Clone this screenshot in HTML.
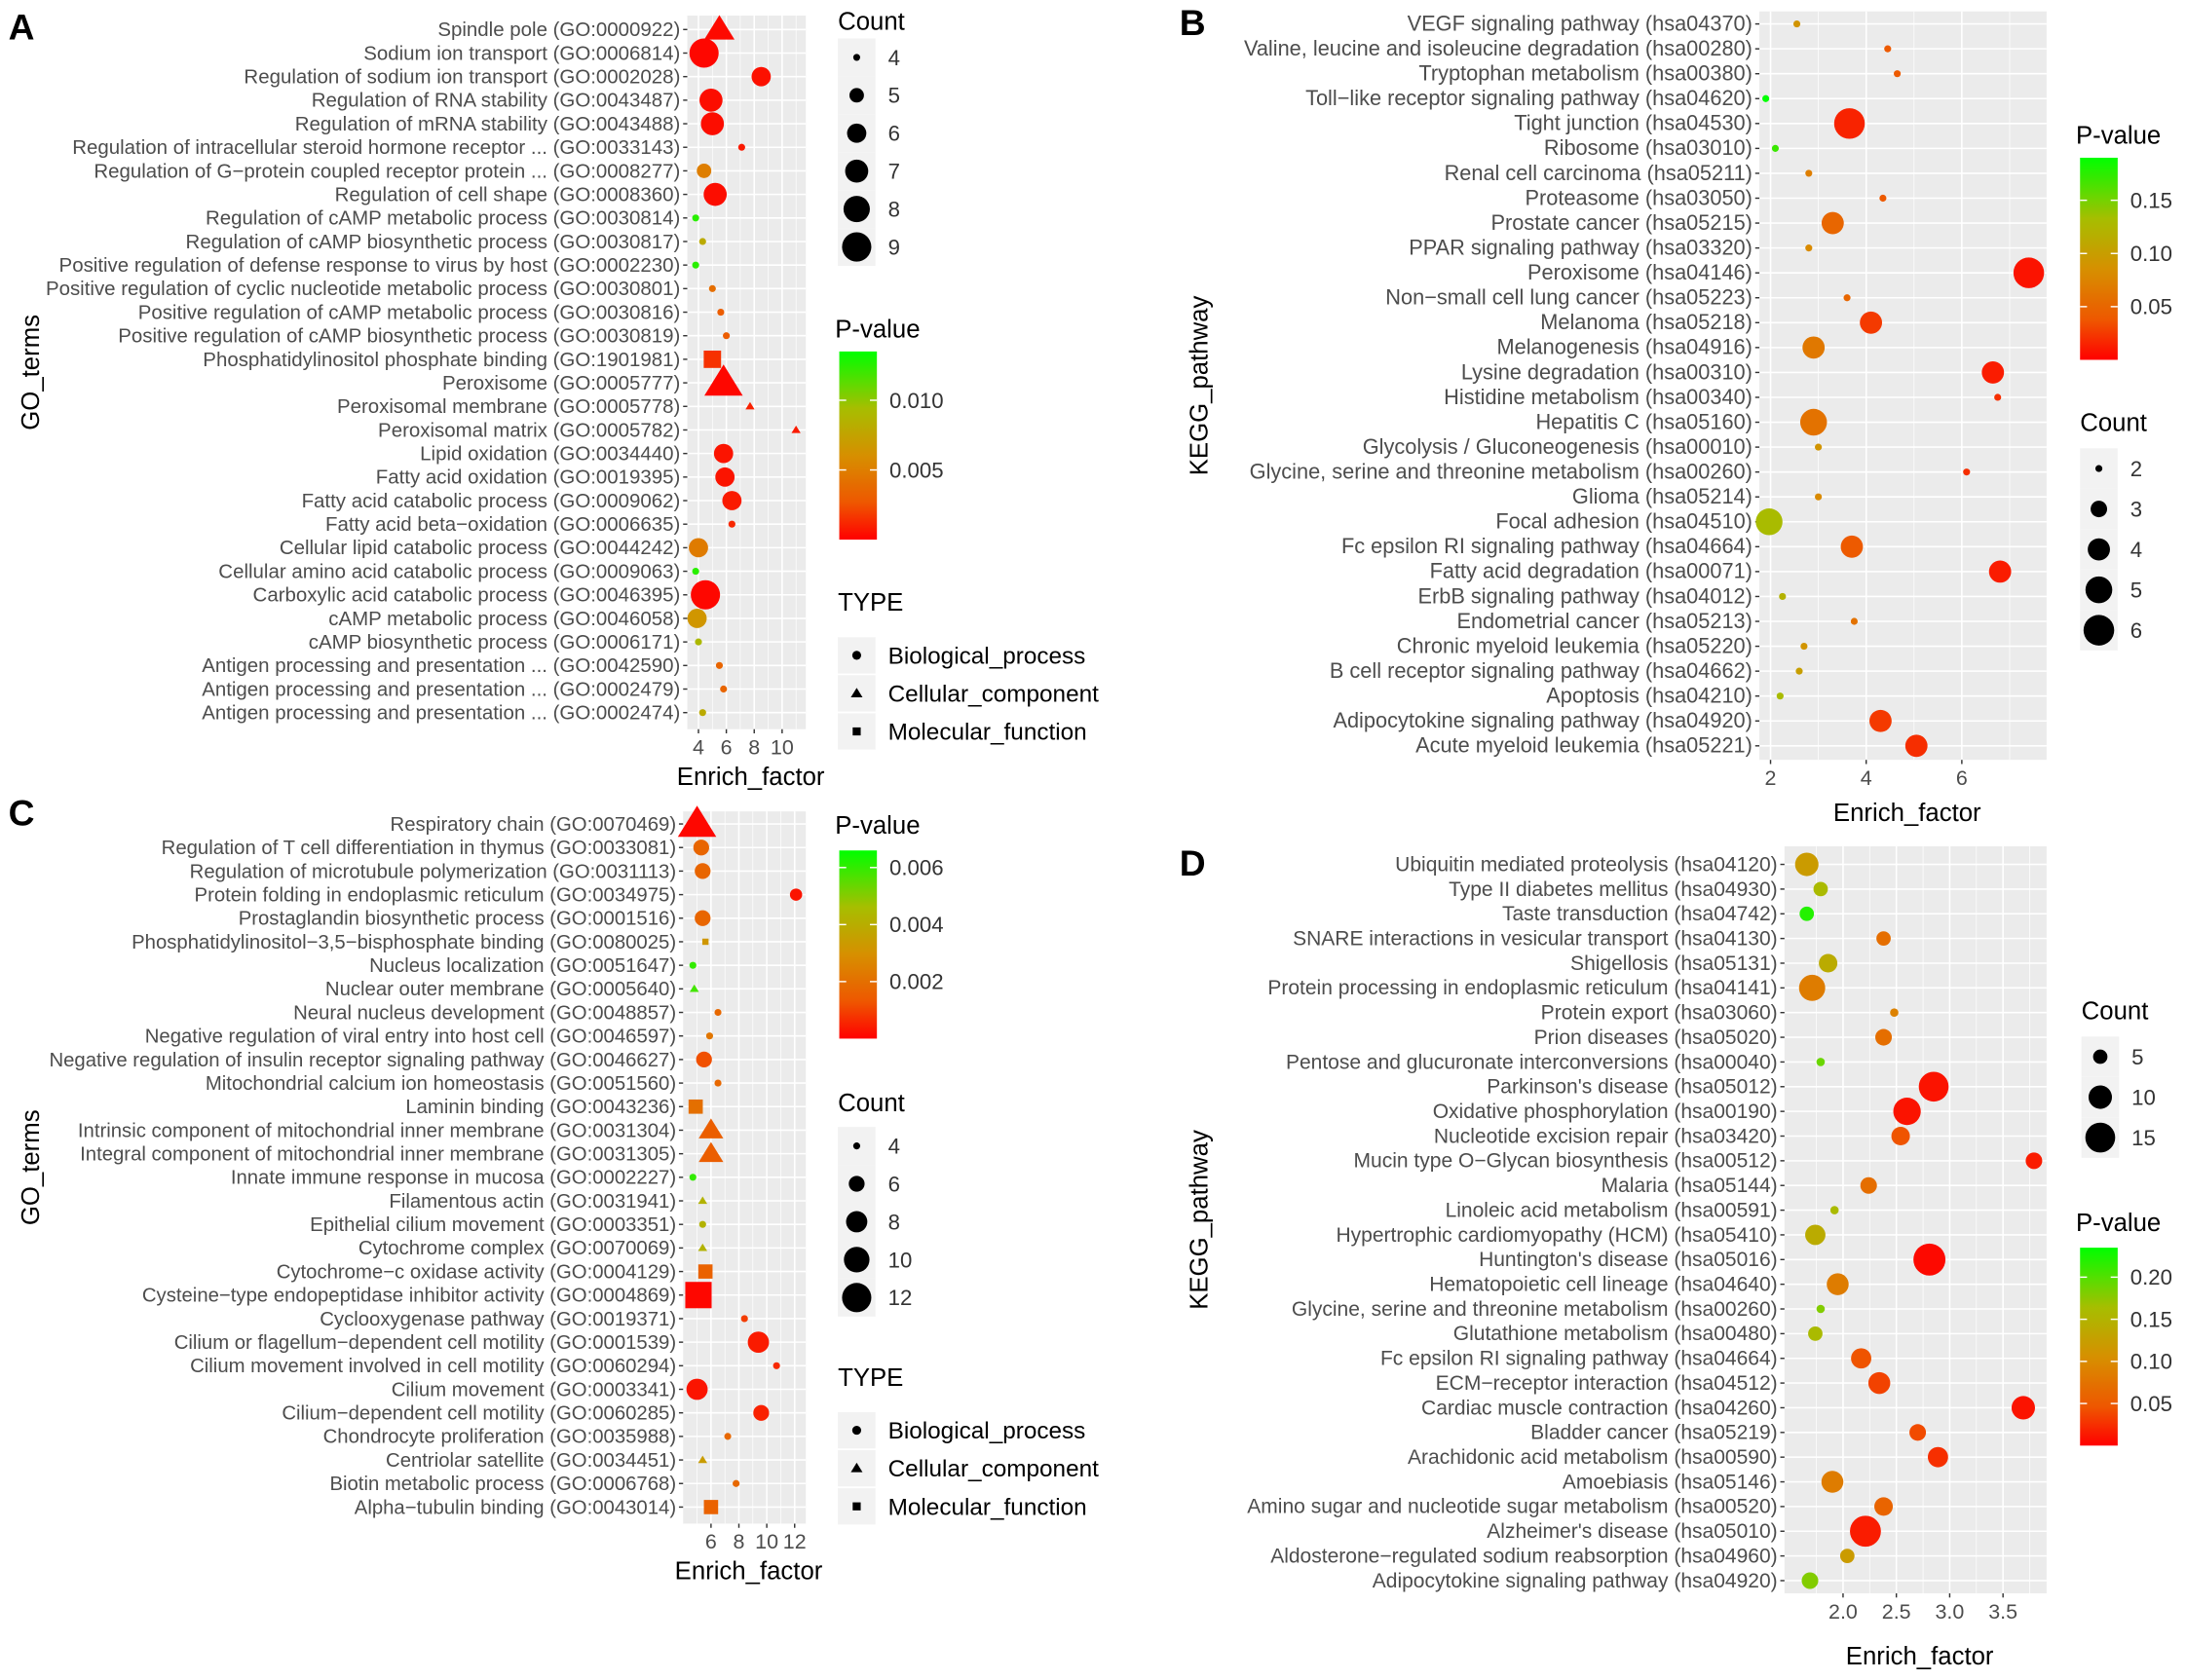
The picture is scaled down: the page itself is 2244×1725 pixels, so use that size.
<!DOCTYPE html>
<html><head><meta charset="utf-8"><style>
html,body{margin:0;padding:0;background:#fff;}
svg{display:block;font-family:"Liberation Sans",Arial,sans-serif;}
</style></head><body>
<svg id="fig" width="2244" height="1725" viewBox="0 0 1568 1205" xmlns="http://www.w3.org/2000/svg"></svg>
<script>
// ---- Panel A data ----
const aTerms=["Spindle pole (GO:0000922)","Sodium ion transport (GO:0006814)","Regulation of sodium ion transport (GO:0002028)","Regulation of RNA stability (GO:0043487)","Regulation of mRNA stability (GO:0043488)","Regulation of intracellular steroid hormone receptor ... (GO:0033143)","Regulation of G−protein coupled receptor protein ... (GO:0008277)","Regulation of cell shape (GO:0008360)","Regulation of cAMP metabolic process (GO:0030814)","Regulation of cAMP biosynthetic process (GO:0030817)","Positive regulation of defense response to virus by host (GO:0002230)","Positive regulation of cyclic nucleotide metabolic process (GO:0030801)","Positive regulation of cAMP metabolic process (GO:0030816)","Positive regulation of cAMP biosynthetic process (GO:0030819)","Phosphatidylinositol phosphate binding (GO:1901981)","Peroxisome (GO:0005777)","Peroxisomal membrane (GO:0005778)","Peroxisomal matrix (GO:0005782)","Lipid oxidation (GO:0034440)","Fatty acid oxidation (GO:0019395)","Fatty acid catabolic process (GO:0009062)","Fatty acid beta−oxidation (GO:0006635)","Cellular lipid catabolic process (GO:0044242)","Cellular amino acid catabolic process (GO:0009063)","Carboxylic acid catabolic process (GO:0046395)","cAMP metabolic process (GO:0046058)","cAMP biosynthetic process (GO:0006171)","Antigen processing and presentation ... (GO:0042590)","Antigen processing and presentation ... (GO:0002479)","Antigen processing and presentation ... (GO:0002474)"];
const aEnrich=[5.5,4.4,8.5,4.9,5.0,7.1,4.4,5.2,3.8,4.3,3.8,5.0,5.6,6.0,5.0,5.8,7.7,11.0,5.8,5.9,6.4,6.4,4.0,3.8,4.5,3.9,4.0,5.5,5.8,4.3];
const aCount=[7,9,6,7,7,4,5,7,4,4,4,4,4,4,6,9,4,4,6,6,6,4,6,4,9,6,4,4,4,4];
const aPval=[0.0003,0.0002,0.0005,0.0004,0.0004,0.0008,0.005,0.0004,0.0125,0.008,0.0125,0.004,0.003,0.003,0.0015,0.0002,0.001,0.0008,0.0006,0.0006,0.0008,0.0012,0.0048,0.0125,0.0002,0.0065,0.009,0.0035,0.0035,0.008];
const aType=["c","b","b","b","b","b","b","b","b","b","b","b","b","b","m","c","c","c","b","b","b","b","b","b","b","b","b","b","b","b"];
const aTicks=[4,6,8,10];
// ---- Panel B data ----
const bTerms=["VEGF signaling pathway (hsa04370)","Valine, leucine and isoleucine degradation (hsa00280)","Tryptophan metabolism (hsa00380)","Toll−like receptor signaling pathway (hsa04620)","Tight junction (hsa04530)","Ribosome (hsa03010)","Renal cell carcinoma (hsa05211)","Proteasome (hsa03050)","Prostate cancer (hsa05215)","PPAR signaling pathway (hsa03320)","Peroxisome (hsa04146)","Non−small cell lung cancer (hsa05223)","Melanoma (hsa05218)","Melanogenesis (hsa04916)","Lysine degradation (hsa00310)","Histidine metabolism (hsa00340)","Hepatitis C (hsa05160)","Glycolysis / Gluconeogenesis (hsa00010)","Glycine, serine and threonine metabolism (hsa00260)","Glioma (hsa05214)","Focal adhesion (hsa04510)","Fc epsilon RI signaling pathway (hsa04664)","Fatty acid degradation (hsa00071)","ErbB signaling pathway (hsa04012)","Endometrial cancer (hsa05213)","Chronic myeloid leukemia (hsa05220)","B cell receptor signaling pathway (hsa04662)","Apoptosis (hsa04210)","Adipocytokine signaling pathway (hsa04920)","Acute myeloid leukemia (hsa05221)"];
const bEnrich=[2.55,4.45,4.65,1.9,3.65,2.1,2.8,4.35,3.3,2.8,7.4,3.6,4.1,2.9,6.65,6.75,2.9,3.0,6.1,3.0,1.97,3.7,6.8,2.25,3.75,2.7,2.6,2.2,4.3,5.05];
const bCount=[2,2,2,2,6,2,2,2,4,2,6,2,4,4,4,2,5,2,2,2,5,4,4,2,2,2,2,2,4,4];
const bPval=[0.09,0.04,0.04,0.19,0.015,0.17,0.07,0.04,0.05,0.08,0.008,0.05,0.025,0.065,0.012,0.02,0.06,0.09,0.02,0.08,0.13,0.04,0.012,0.12,0.06,0.09,0.1,0.13,0.025,0.02];
const bTicks=[2,4,6];
// ---- Panel C data ----
const cTerms=["Respiratory chain (GO:0070469)","Regulation of T cell differentiation in thymus (GO:0033081)","Regulation of microtubule polymerization (GO:0031113)","Protein folding in endoplasmic reticulum (GO:0034975)","Prostaglandin biosynthetic process (GO:0001516)","Phosphatidylinositol−3,5−bisphosphate binding (GO:0080025)","Nucleus localization (GO:0051647)","Nuclear outer membrane (GO:0005640)","Neural nucleus development (GO:0048857)","Negative regulation of viral entry into host cell (GO:0046597)","Negative regulation of insulin receptor signaling pathway (GO:0046627)","Mitochondrial calcium ion homeostasis (GO:0051560)","Laminin binding (GO:0043236)","Intrinsic component of mitochondrial inner membrane (GO:0031304)","Integral component of mitochondrial inner membrane (GO:0031305)","Innate immune response in mucosa (GO:0002227)","Filamentous actin (GO:0031941)","Epithelial cilium movement (GO:0003351)","Cytochrome complex (GO:0070069)","Cytochrome−c oxidase activity (GO:0004129)","Cysteine−type endopeptidase inhibitor activity (GO:0004869)","Cyclooxygenase pathway (GO:0019371)","Cilium or flagellum−dependent cell motility (GO:0001539)","Cilium movement involved in cell motility (GO:0060294)","Cilium movement (GO:0003341)","Cilium−dependent cell motility (GO:0060285)","Chondrocyte proliferation (GO:0035988)","Centriolar satellite (GO:0034451)","Biotin metabolic process (GO:0006768)","Alpha−tubulin binding (GO:0043014)"];
const cEnrich=[5.0,5.3,5.4,12.1,5.4,5.6,4.7,4.8,6.5,5.9,5.5,6.5,4.9,6.0,6.0,4.7,5.4,5.4,5.4,5.6,5.1,8.4,9.4,10.7,5.0,9.6,7.2,5.4,7.8,6.0];
const cCount=[12,6,6,5,6,4,4,4,4,4,6,4,6,7,7,4,4,4,4,6,12,4,8,4,8,6,4,4,4,6];
const cPval=[0.0001,0.0017,0.0017,0.0003,0.0017,0.0032,0.006,0.0058,0.0018,0.0022,0.0012,0.0018,0.002,0.0015,0.0015,0.006,0.0042,0.0042,0.0042,0.0016,0.0001,0.0009,0.0004,0.0006,0.0003,0.0005,0.0018,0.0034,0.0018,0.0016];
const cType=["c","b","b","b","b","m","b","c","b","b","b","b","m","c","c","b","c","b","c","m","m","b","b","b","b","b","b","c","b","m"];
const cTicks=[6,8,10,12];
// ---- Panel D data ----
const dTerms=["Ubiquitin mediated proteolysis (hsa04120)","Type II diabetes mellitus (hsa04930)","Taste transduction (hsa04742)","SNARE interactions in vesicular transport (hsa04130)","Shigellosis (hsa05131)","Protein processing in endoplasmic reticulum (hsa04141)","Protein export (hsa03060)","Prion diseases (hsa05020)","Pentose and glucuronate interconversions (hsa00040)","Parkinson's disease (hsa05012)","Oxidative phosphorylation (hsa00190)","Nucleotide excision repair (hsa03420)","Mucin type O−Glycan biosynthesis (hsa00512)","Malaria (hsa05144)","Linoleic acid metabolism (hsa00591)","Hypertrophic cardiomyopathy (HCM) (hsa05410)","Huntington's disease (hsa05016)","Hematopoietic cell lineage (hsa04640)","Glycine, serine and threonine metabolism (hsa00260)","Glutathione metabolism (hsa00480)","Fc epsilon RI signaling pathway (hsa04664)","ECM−receptor interaction (hsa04512)","Cardiac muscle contraction (hsa04260)","Bladder cancer (hsa05219)","Arachidonic acid metabolism (hsa00590)","Amoebiasis (hsa05146)","Amino sugar and nucleotide sugar metabolism (hsa00520)","Alzheimer's disease (hsa05010)","Aldosterone−regulated sodium reabsorption (hsa04960)","Adipocytokine signaling pathway (hsa04920)"];
const dEnrich=[1.66,1.79,1.66,2.38,1.86,1.71,2.48,2.38,1.79,2.85,2.6,2.54,3.79,2.24,1.92,1.74,2.81,1.95,1.79,1.74,2.17,2.34,3.69,2.7,2.89,1.9,2.38,2.21,2.04,1.69];
const dCount=[10,5,5,5,7,12,3,6,3,15,13,7,6,6,3,8,17,9,3,5,8,9,10,6,8,9,7,16,5,6];
const dPval=[0.12,0.16,0.22,0.07,0.14,0.085,0.09,0.07,0.19,0.01,0.01,0.045,0.015,0.07,0.16,0.14,0.005,0.085,0.18,0.16,0.045,0.035,0.01,0.04,0.025,0.085,0.06,0.015,0.12,0.18];
const dTicks=[2.0,2.5,3.0,3.5];

const NS="http://www.w3.org/2000/svg";
const svg=document.getElementById('fig');
function mk(tag,attrs,parent){const e=document.createElementNS(NS,tag);for(const k in attrs)e.setAttribute(k,attrs[k]);(parent||svg).appendChild(e);return e;}
function txt(s,attrs,parent){const e=mk('text',attrs,parent);e.textContent=s;return e;}
const stops=[[0,[255,0,0]],[0.2,[238,88,0]],[0.45,[214,144,0]],[0.7,[166,190,0]],[1,[0,255,0]]];
function col(t){t=Math.max(0,Math.min(1,t));for(let i=1;i<stops.length;i++){if(t<=stops[i][0]){const a=stops[i-1],b=stops[i];const f=(t-a[0])/(b[0]-a[0]);const c=a[1].map((v,j)=>Math.round(v+(b[1][j]-v)*f));return `rgb(${c[0]},${c[1]},${c[2]})`;}}return 'rgb(0,255,0)';}
function shape(g,type,x,y,r,fill){
  if(type==='b')return mk('circle',{cx:x,cy:y,r:r,fill:fill},g);
  if(type==='m'){const h=r*0.9;return mk('rect',{x:x-h,y:y-h,width:2*h,height:2*h,fill:fill},g);}
  const s=r*1.25;return mk('polygon',{points:`${x},${y-s} ${x+s*1.05},${y+s*0.7} ${x-s*1.05},${y+s*0.7}`,fill:fill},g);
}
function panel(p){
  const g=mk('g',{});
  
  
  const xs=v=>p.x0+(v-p.v0)*p.k;
  const ys=i=>p.y0+i*p.step;
  const bg=mk('rect',{x:p.L,y:p.T,width:p.R-p.L,height:p.B-p.T,fill:'#EBEBEB'},g);
  
  
  for(let i=0;i<p.ticks.length+1;i++){const v=p.ticks[0]+(i-0.5)*(p.ticks[1]-p.ticks[0]);const x=xs(v);if(x>p.L&&x<p.R)mk('line',{x1:x,x2:x,y1:p.T,y2:p.B,stroke:'#fff','stroke-width':0.5},g);}
  p.ticks.forEach(v=>{const x=xs(v);mk('line',{x1:x,x2:x,y1:p.T,y2:p.B,stroke:'#fff','stroke-width':1.1},g);
    mk('line',{x1:x,x2:x,y1:p.B,y2:p.B+3,stroke:'#333'},g);
    const t=txt(p.fmt?p.fmt(v):String(v),{x:x,y:p.B+18,'font-size':15,'text-anchor':'middle',fill:'#4d4d4d'},g);
    
    });
  p.terms.forEach((s,i)=>{const y=ys(i);mk('line',{x1:p.L,x2:p.R,y1:y,y2:y,stroke:'#fff','stroke-width':1.1},g);
    mk('line',{x1:p.L-3,x2:p.L,y1:y,y2:y,stroke:'#333'},g);
    const t=txt(s,{x:p.L-5,y:y+4.8,'font-size':p.fs,'text-anchor':'end',fill:'#4d4d4d'},g);
    
    });
  p.terms.forEach((s,i)=>{const r=Math.sqrt(p.r0*p.r0+(p.count[i]-p.c0)/(p.c1-p.c0)*(p.r1*p.r1-p.r0*p.r0));
    const e=shape(g,p.type?p.type[i]:'b',xs(p.enrich[i]),ys(i),r,col(p.pval[i]/p.pmax));
    
    });
  const xt=txt('Enrich_factor',{x:(p.L+p.R)/2+3,y:p.B+p.xtOff,'font-size':18,'text-anchor':'middle',fill:'#000'},g);
  
  
  const yt=txt(p.ytitle,{x:p.ytx,y:(p.T+p.B)/2,'font-size':18,'text-anchor':'middle',transform:`rotate(-90 ${p.ytx} ${(p.T+p.B)/2})`,fill:'#000'},g);
  
  
  const lt=txt(p.letter,{x:p.lx,y:p.ly,'font-size':26,'font-weight':'bold',fill:'#000'},g);
  
  
  const cl=mk('g',{},g);
  
  
  txt('Count',{x:p.cx,y:p.cy,'font-size':18,fill:'#000'},cl);
  p.cKeys.forEach((c,i)=>{const y=p.cy+p.cFirst+i*p.cStep;mk('rect',{x:p.cx,y:y-p.cStep/2,width:27,height:p.cStep,fill:'#F2F2F2'},cl);
    const r=Math.sqrt(p.r0*p.r0+(c-p.c0)/(p.c1-p.c0)*(p.r1*p.r1-p.r0*p.r0));
    mk('circle',{cx:p.cx+13.5,cy:y,r:r,fill:'#000'},cl);
    txt(String(c),{x:p.cx+36,y:y+5.5,'font-size':15.5,fill:'#333'},cl);});
  const pl=mk('g',{},g);
  
  
  txt('P-value',{x:p.px-3,y:p.py,'font-size':18,fill:'#000'},pl);
  const gid='gr'+p.letter;
  const lg=mk('linearGradient',{id:gid,x1:0,y1:1,x2:0,y2:0},pl);
  for(let i=0;i<=20;i++)mk('stop',{offset:i/20,'stop-color':col(i/20*p.barMax/p.pmax)},lg);
  mk('rect',{x:p.px,y:p.pb0,width:27,height:p.pb1-p.pb0,fill:`url(#${gid})`},pl);
  p.pTicks.forEach(v=>{const y=p.pb1-(v/p.barMax)*(p.pb1-p.pb0);
    mk('line',{x1:p.px,x2:p.px+5,y1:y,y2:y,stroke:'#fff'},pl);mk('line',{x1:p.px+22,x2:p.px+27,y1:y,y2:y,stroke:'#fff'},pl);
    txt(p.pfmt(v),{x:p.px+36,y:y+5.5,'font-size':15.5,fill:'#333'},pl);});
  if(p.tyy){const tl=mk('g',{},g);
    
    
    txt('TYPE',{x:p.cx,y:p.tyy,'font-size':18,fill:'#000'},tl);
    [['b','Biological_process'],['c','Cellular_component'],['m','Molecular_function']].forEach((e,i)=>{const y=p.tyy+32+i*27.3;
      mk('rect',{x:p.cx,y:y-13,width:27,height:26,fill:'#F2F2F2'},tl);shape(tl,e[0],p.cx+13.5,y,3.2,'#000');
      txt(e[1],{x:p.cx+36,y:y+6,'font-size':17,fill:'#000'},tl);});}
}
panel({name:'panel-a',letter:'A',lx:6,ly:28,terms:aTerms,enrich:aEnrich,count:aCount,pval:aPval,type:aType,ticks:aTicks,fs:14.3,xtOff:40,
  L:493,R:578,T:11,B:523,x0:501,v0:4,k:10,y0:21,step:16.9,r0:2.5,r1:10.5,c0:4,c1:9,pmax:0.0135,ytitle:'GO_terms',ytx:28,
  cx:601,cy:21,cKeys:[4,5,6,7,8,9],cFirst:20,cStep:27.2,px:602,py:242,pb0:252,pb1:387,barMax:0.0135,pTicks:[0.005,0.010],pfmt:v=>v.toFixed(3),tyy:438});
panel({name:'panel-b',letter:'B',lx:846,ly:25,terms:bTerms,enrich:bEnrich,count:bCount,pval:bPval,ticks:bTicks,fs:15.2,xtOff:44,
  L:1262,R:1468,T:8,B:545,x0:1270,v0:2,k:34.3,y0:17,step:17.86,r0:2.5,r1:11,c0:2,c1:6,pmax:0.19,ytitle:'KEGG_pathway',ytx:866,
  cx:1492,cy:309,cKeys:[2,3,4,5,6],cFirst:27,cStep:29,px:1492,py:103,pb0:113,pb1:258,barMax:0.19,pTicks:[0.05,0.10,0.15],pfmt:v=>v.toFixed(2)});
panel({name:'panel-c',letter:'C',lx:6,ly:592,terms:cTerms,enrich:cEnrich,count:cCount,pval:cPval,type:cType,ticks:cTicks,fs:14.2,xtOff:40,
  L:490,R:578,T:582,B:1093,x0:510,v0:6,k:10,y0:591,step:16.9,r0:2.5,r1:10.5,c0:4,c1:12,pmax:0.0066,ytitle:'GO_terms',ytx:28,
  cx:601,cy:797,cKeys:[4,6,8,10,12],cFirst:25,cStep:27.2,px:602,py:598,pb0:610,pb1:745,barMax:0.0066,pTicks:[0.002,0.004,0.006],pfmt:v=>v.toFixed(3),tyy:994});
panel({name:'panel-d',letter:'D',lx:846,ly:628,terms:dTerms,enrich:dEnrich,count:dCount,pval:dPval,ticks:dTicks,fs:14.7,xtOff:51,
  L:1280,R:1468,T:607,B:1143,x0:1322,v0:2,k:76.5,y0:620,step:17.72,r0:3,r1:11.5,c0:3,c1:17,pmax:0.235,ytitle:'KEGG_pathway',ytx:866,fmt:v=>v.toFixed(1),
  cx:1493,cy:731,cKeys:[5,10,15],cFirst:27,cStep:29,px:1492,py:883,pb0:895,pb1:1037,barMax:0.235,pTicks:[0.05,0.10,0.15,0.20],pfmt:v=>v.toFixed(2)});
</script>
</body></html>
